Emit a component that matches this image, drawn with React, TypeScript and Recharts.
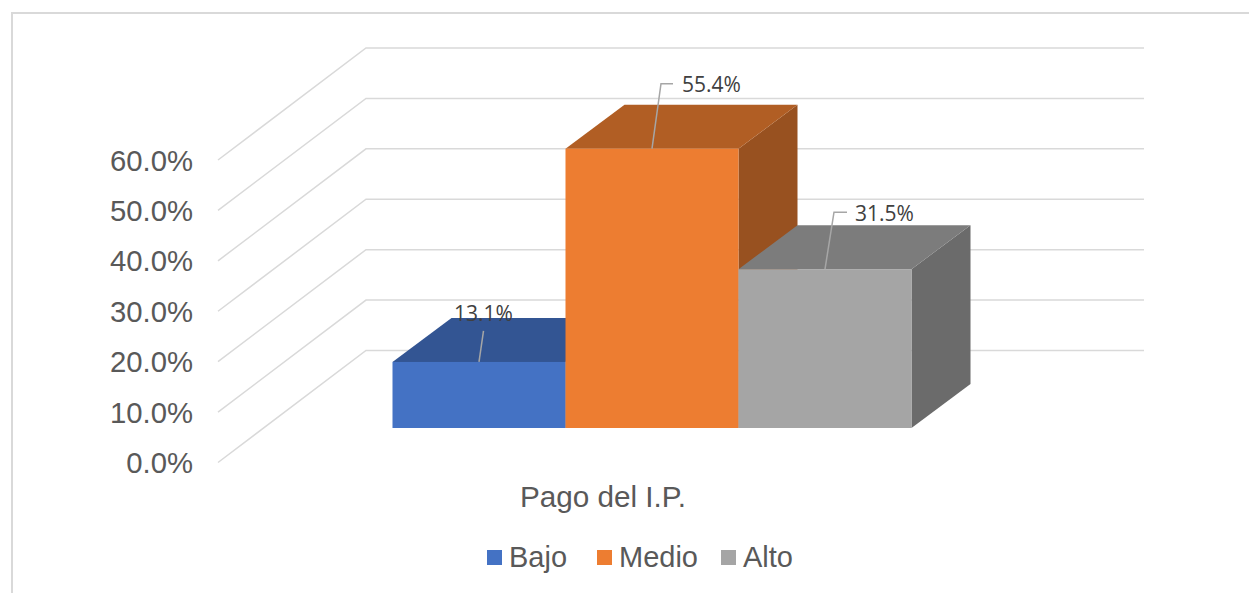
import { BarChart, Bar, XAxis, YAxis, Legend, LabelList, CartesianGrid } from 'recharts'

const categories = ['Pago del I.P.']
const seriesNames = ['Bajo', 'Medio', 'Alto']
const bajoValues = [13.1]
const medioValues = [55.4]
const altoValues = [31.5]
const yTicks = [0, 10, 20, 30, 40, 50, 60]

const data = categories.map((name, i) => ({
  name,
  Bajo: bajoValues[i],
  Medio: medioValues[i],
  Alto: altoValues[i],
}))

const SANS = '"Liberation Sans", Arial, sans-serif'
const GRID = '#D9D9D9'
const TEXT = '#595959'

// plot box of the front wall
const PLOT_LEFT = 218
const WALL_DX = 148
const WALL_DY = -112
const WALL_END = 1144

// where the bars sit inside the 3D box
const BAR_DX = 44.5
const BAR_DY = -34.5
const DEPTH_DX = 59
const DEPTH_DY = -44

const COLORS: Record<string, { front: string; top: string; side: string }> = {
  Bajo: { front: '#4472C4', top: '#335593', side: '#2C4A80' },
  Medio: { front: '#ED7D31', top: '#B15E24', side: '#985120' },
  Alto: { front: '#A5A5A5', top: '#7C7C7C', side: '#6B6B6B' },
}

// leader line offsets from the middle of the bar's front top edge
const LEADERS: Record<string, { kneeX: number; kneeY: number; tail: number; labelX: number; labelY: number; anchor: 'start' | 'middle' }> = {
  Bajo: { kneeX: 4.5, kneeY: -31, tail: 0, labelX: 4.5, labelY: -41, anchor: 'middle' },
  Medio: { kneeX: 9, kneeY: -65, tail: 12, labelX: 30, labelY: -56.5, anchor: 'start' },
  Alto: { kneeX: 9, kneeY: -57, tail: 13, labelX: 30, labelY: -48.5, anchor: 'start' },
}

const LEGEND_LEFT: Record<string, number> = { Bajo: 487, Medio: 597, Alto: 721 }

function YTick({ y, payload }: any) {
  return (
    <text x={193} y={y + 10.5} textAnchor="end" fontFamily={SANS} fontSize={29.3} fill={TEXT}>
      {payload.value.toFixed(1)}%
    </text>
  )
}

function XTick({ y, payload }: any) {
  return (
    <text x={603} y={y} textAnchor="middle" fontFamily={SANS} fontSize={29.7} fill={TEXT}>
      {payload.value}
    </text>
  )
}

// each gridline runs along the side wall and then across the back wall
function GridLine({ y1 }: any) {
  return (
    <polyline
      points={`${PLOT_LEFT},${y1} ${PLOT_LEFT + WALL_DX},${y1 + WALL_DY} ${WALL_END},${y1 + WALL_DY}`}
      fill="none"
      stroke={GRID}
      strokeWidth={1.5}
    />
  )
}

function Bar3D({ x, y, width, height, name }: any) {
  const c = COLORS[name]
  const l = x + BAR_DX
  const r = l + width
  const t = y + BAR_DY
  const b = t + height
  return (
    <g>
      <polygon points={`${r},${t} ${r + DEPTH_DX},${t + DEPTH_DY} ${r + DEPTH_DX},${b + DEPTH_DY} ${r},${b}`} fill={c.side} />
      <polygon points={`${l},${t} ${l + DEPTH_DX},${t + DEPTH_DY} ${r + DEPTH_DX},${t + DEPTH_DY} ${r},${t}`} fill={c.top} />
      <rect x={l} y={t} width={width} height={height} fill={c.front} />
    </g>
  )
}

const leaderLabel = (name: string) => ({ x, y, width, value }: any) => {
  const s = LEADERS[name]
  const cx = x + BAR_DX + width / 2
  const t = y + BAR_DY
  const kx = cx + s.kneeX
  const ky = t + s.kneeY
  return (
    <g>
      <polyline points={`${cx},${t} ${kx},${ky} ${kx + s.tail},${ky}`} fill="none" stroke="#A6A6A6" strokeWidth={1.5} />
      <text x={cx + s.labelX} y={t + s.labelY} textAnchor={s.anchor} fontFamily='"Open Sans", sans-serif' fontSize={21} fill="#404040">
        {value.toFixed(1)}%
      </text>
    </g>
  )
}

function LegendBox({ payload }: any) {
  return (
    <div style={{ position: 'relative', height: 0 }}>
      {(payload ?? []).map((item: any) => (
        <div key={item.value} style={{ position: 'absolute', left: LEGEND_LEFT[item.value], top: 539, display: 'flex', alignItems: 'center', height: 36, whiteSpace: 'nowrap' }}>
          <span style={{ width: 15, height: 15, background: item.color, marginRight: 7 }} />
          <span style={{ fontFamily: SANS, fontSize: 29, color: TEXT }}>{item.value}</span>
        </div>
      ))}
    </div>
  )
}

export default function App() {
  return (
    <div style={{ position: 'absolute', left: 0, top: 0, width: 1249, height: 593, overflow: 'hidden', background: '#fff' }}>
      <div style={{ position: 'absolute', left: 11, top: 12, width: 1400, height: 800, border: '2px solid #D9D9D9' }} />
      <BarChart
        width={1249}
        height={593}
        data={data}
        margin={{ top: 160, right: 253, bottom: 70.5, left: 0 }}
        barSize={173}
        barGap={0}
        style={{ position: 'absolute', left: 0, top: 0 }}
      >
        <CartesianGrid vertical={false} horizontal={<GridLine />} />
        <XAxis dataKey="name" height={60} axisLine={false} tickLine={false} tick={<XTick />} tickMargin={38} />
        <YAxis width={218} domain={[0, 60]} ticks={yTicks} axisLine={false} tickLine={false} tick={<YTick />} />
        <Legend content={<LegendBox />} wrapperStyle={{ left: 0, top: 0, width: 1249, height: 0 }} />
        {seriesNames.map((name) => (
          <Bar key={name} dataKey={name} name={name} fill={COLORS[name].front} isAnimationActive={false} shape={<Bar3D name={name} />}>
            <LabelList dataKey={name} content={leaderLabel(name)} />
          </Bar>
        ))}
      </BarChart>
    </div>
  )
}
